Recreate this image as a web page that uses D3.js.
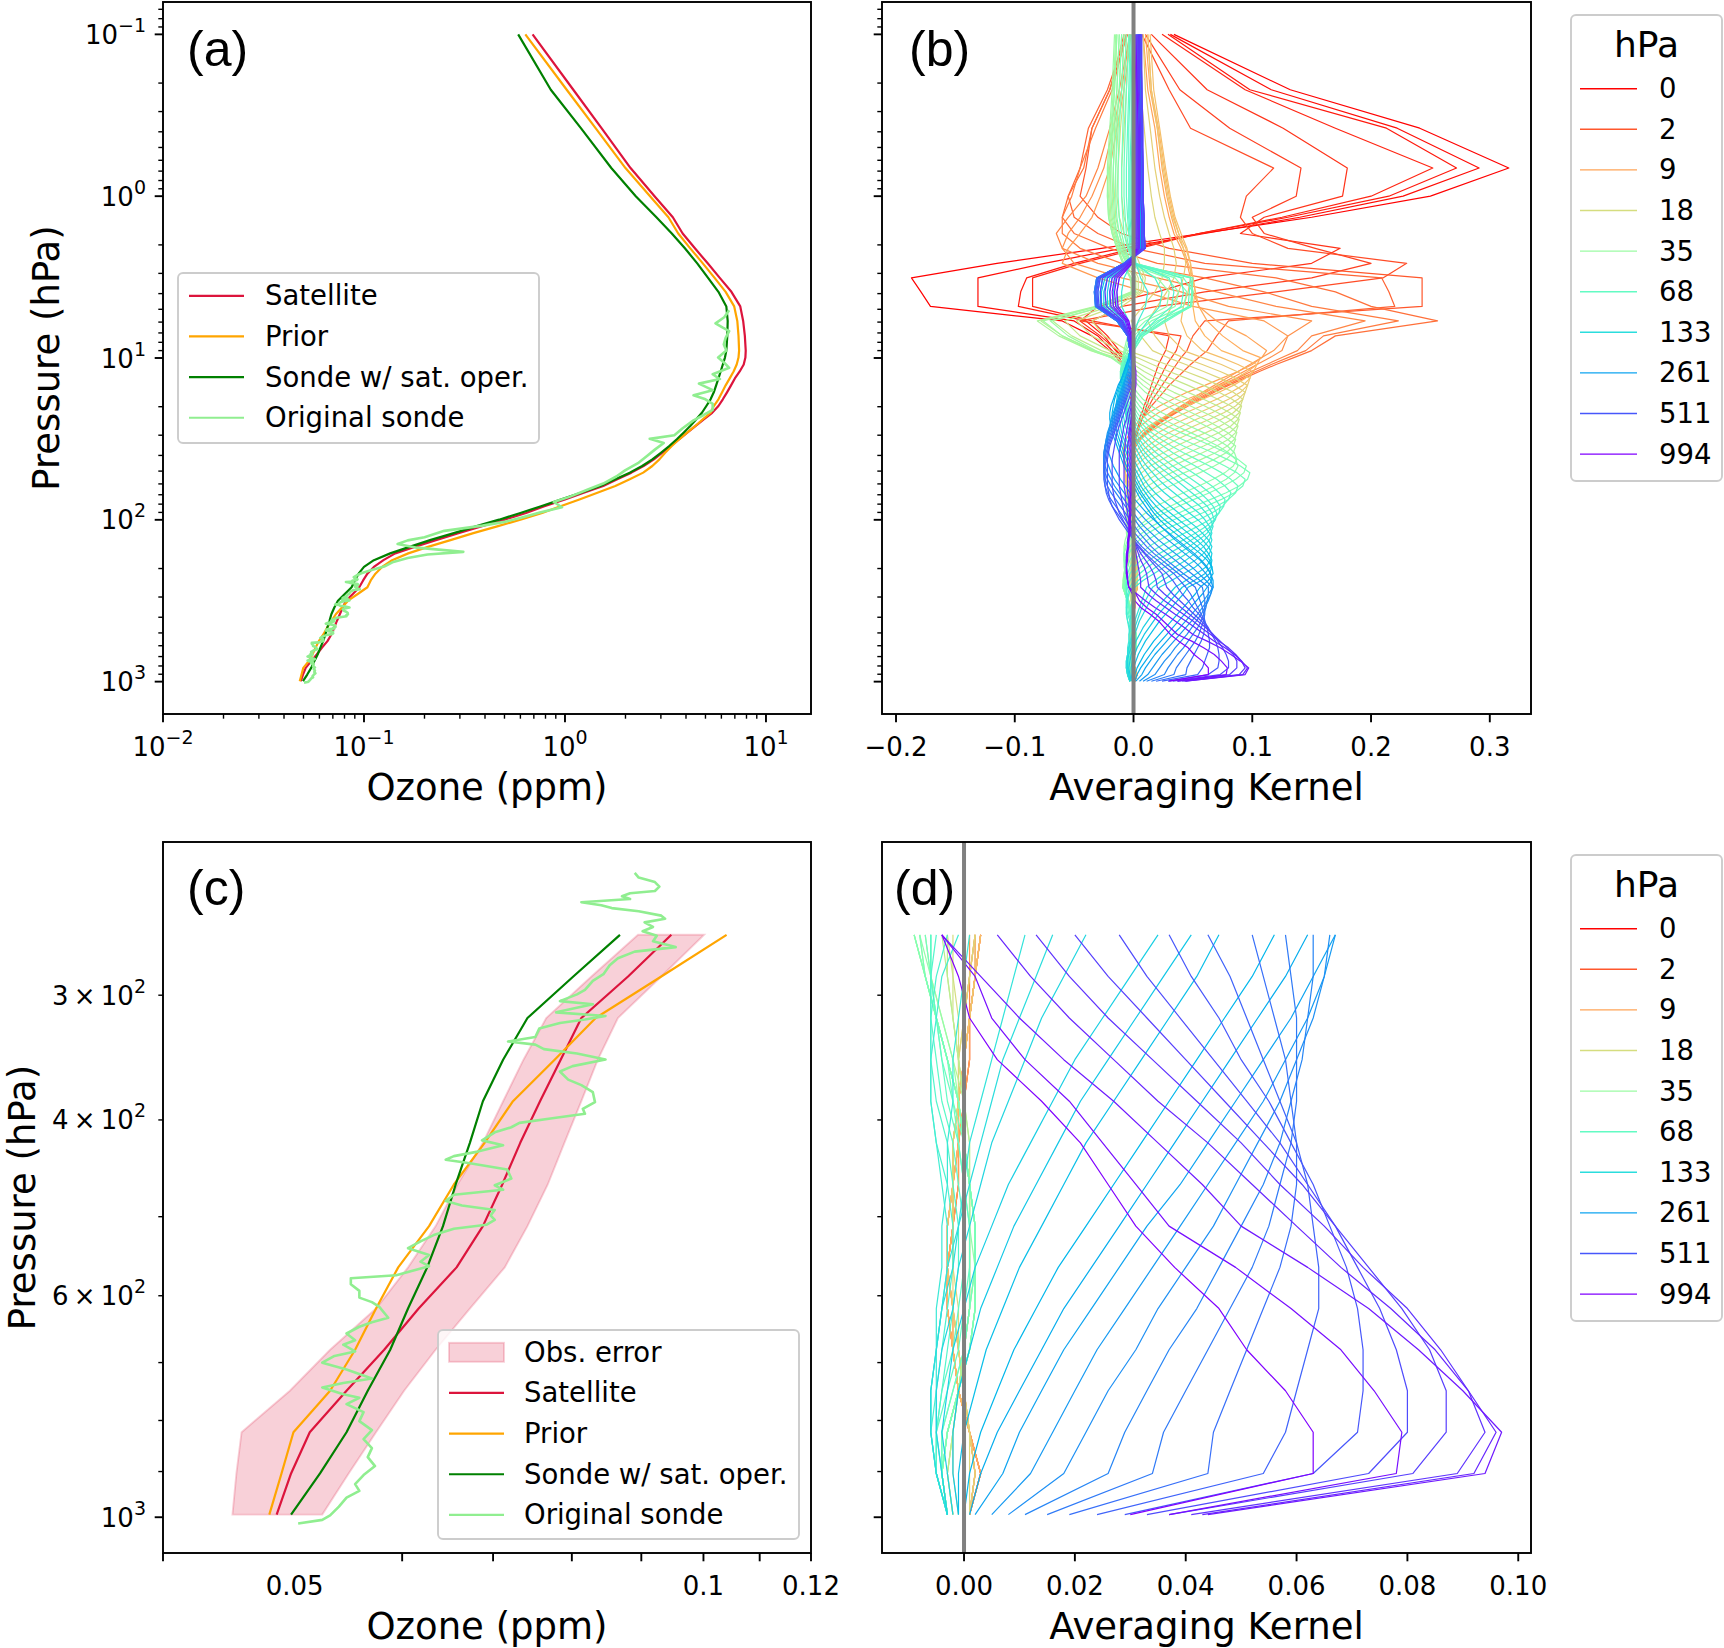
<!DOCTYPE html>
<html>
<head>
<meta charset="utf-8">
<script src="https://cdn.jsdelivr.net/npm/d3@7"></script>
<style>
  body { margin: 0; background: #fff; }
  svg text { font-family: "DejaVu Sans", sans-serif; fill: #000; }
</style>
</head>
<body>
<svg id="fig" width="1724" height="1648"></svg>
<script>
// retrieval grid, hPa, top to bottom
const levels = [
  0.1, 0.22, 0.38, 0.67, 1.0, 1.35, 1.7, 2.1,
  2.6, 3.2, 3.9, 4.8, 5.9, 7.3, 9.0, 9.94,
  10.97, 12.11, 13.37, 14.76, 16.3, 18.0, 19.8, 21.8,
  23.9, 26.3, 28.9, 31.8, 35.0, 38.5, 42.3, 46.5,
  51.1, 56.2, 61.8, 68.0, 74.8, 82.4, 90.7, 99.8,
  109.8, 120.9, 133.0, 146.4, 161.2, 177.5, 195.5, 215.2,
  237.0, 261.0, 287.3, 316.2, 348.1, 383.1, 421.7, 464.2,
  511.0, 562.0, 618.0, 679.6, 747.0, 822.0, 904.0, 994.0
];

// ozone profiles on the grid (ppm)
const satellite = [
  0.69, 1.10, 1.52, 2.12, 2.79, 3.44, 3.85, 4.43,
  5.13, 5.89, 6.73, 7.45, 7.70, 7.85, 7.93, 7.90,
  7.75, 7.40, 7.00, 6.70, 6.40, 6.10, 5.80, 5.40,
  4.92, 4.47, 4.06, 3.69, 3.35, 3.05, 2.77, 2.46,
  2.14, 1.82, 1.55, 1.24, 1.00, 0.79, 0.64, 0.50,
  0.383, 0.295, 0.23, 0.18, 0.143, 0.125, 0.112, 0.104,
  0.099, 0.0947, 0.0880, 0.0813, 0.0785, 0.0758, 0.0733, 0.0711,
  0.0688, 0.0658, 0.0617, 0.0582, 0.0546, 0.0513, 0.0497, 0.0485
];
const prior = [
  0.635, 1.02, 1.42, 2.00, 2.65, 3.27, 3.66, 4.20,
  4.85, 5.55, 6.30, 6.95, 7.20, 7.30, 7.35, 7.30,
  7.15, 6.90, 6.60, 6.30, 6.05, 5.80, 5.50, 5.30,
  4.85, 4.45, 4.05, 3.70, 3.40, 3.15, 2.95, 2.72,
  2.45, 2.10, 1.78, 1.45, 1.18, 0.95, 0.77, 0.60,
  0.46, 0.35, 0.272, 0.21, 0.166, 0.138, 0.123, 0.114,
  0.108, 0.104, 0.0931, 0.0833, 0.0777, 0.0724, 0.0690, 0.0655,
  0.0628, 0.0596, 0.0574, 0.0554, 0.0531, 0.0499, 0.0489, 0.0479
];
const sondeOper = [
  0.585, 0.85, 1.20, 1.70, 2.25, 2.85, 3.40, 3.95,
  4.55, 5.15, 5.80, 6.35, 6.45, 6.42, 6.35, 6.25,
  6.10, 5.95, 5.80, 5.65, 5.50, 5.30, 5.05, 4.80,
  4.50, 4.20, 3.90, 3.60, 3.30, 3.00, 2.72, 2.42,
  2.10, 1.78, 1.50, 1.20, 0.96, 0.76, 0.60, 0.47,
  0.36, 0.28, 0.215, 0.17, 0.135, 0.112, 0.100, 0.094,
  0.090, 0.0868, 0.0802, 0.0742, 0.0712, 0.0688, 0.0673, 0.0657,
  0.0643, 0.0626, 0.0606, 0.0588, 0.0566, 0.0546, 0.0522, 0.0497
];

// original sonde (hPa, ppm)
const sondePres = [
  5.07, 5.6, 6.11, 6.5, 6.82, 7.5, 8.24, 9.0, 9.93, 10.7, 11.5, 12.6, 13.5, 14.4, 15.8, 17.0,
  18.0, 19.2, 20.9, 22.5, 24.3, 27.2, 30.0, 31.6, 33.5, 36.7, 40.5, 44.3, 49.5, 54.0, 59.7, 65.0,
  71.9, 77.6, 83.6, 90.0, 97.0, 103, 108.6, 117, 128, 134, 141, 148.6, 157.8, 163.7, 172, 182,
  194.5, 205, 214, 221,
  226.3, 228.7, 231.1, 233.5, 235.9, 237.1, 238.8, 240.3, 242.1, 243.8,
  245.4, 247.2, 249.7, 251.5, 253.6, 256.3, 258.9, 261.6, 264.9, 268.5,
  271.3, 275.5, 279.9, 285.8, 290.2, 296.3, 299.4, 304.1, 306.3, 312.1,
  314.7, 317.3, 319.9, 323.9, 330.4, 333.8, 336.2, 339.7, 343.2, 347.9,
  353.3, 357.7, 364.5, 369.1, 375.2, 383.9, 389.9, 394.4, 398.5, 402.7,
  406.8, 411.6, 419.3, 424.1, 430.3, 434.8, 438.4, 442.1, 448.5, 457.9,
  465.1, 469.9, 475.3, 482.3, 487.3, 492.4, 498.6, 503.7, 509.4, 514.2,
  521.7, 529.3, 537.7, 546.1, 554.7, 560.5, 572.2, 576.3, 584.2, 593.3,
  602.6, 608.9, 615.2, 631.3, 637.9, 644.5, 654.6, 664.8, 671.7, 682.3,
  689.4, 700.2, 711.2, 726.1, 733.7, 741.3, 752.9, 759.2, 770.3, 784.8,
  801.2, 818, 835.1, 852.6, 870.5, 888.7, 907.4, 926.4, 941, 955.6,
  975.7, 995.9, 1006.2, 1014.6
];
const sondeO3 = [
  6.56, 6.2, 5.61, 6.1, 6.56, 6.3, 6.17, 6.35, 5.78, 6.2, 6.56, 5.43, 5.9, 4.64, 5.43, 4.36,
  5.0, 5.43, 5.43, 4.9, 4.36, 3.85, 3.5, 2.64, 3.1, 2.81, 2.55, 2.33, 1.99, 1.80, 1.55, 1.30,
  1.06, 0.88, 0.966, 0.75, 0.604, 0.50, 0.389, 0.251, 0.20, 0.165, 0.147, 0.183, 0.312, 0.207, 0.165, 0.14,
  0.126, 0.108, 0.097, 0.0918,
  0.0890, 0.0896, 0.0921, 0.0928, 0.0921, 0.0883, 0.0871, 0.0883, 0.0813, 0.0841,
  0.0856, 0.0896, 0.0931, 0.0937, 0.0905, 0.0918, 0.0902, 0.0924, 0.0918, 0.0954,
  0.0890, 0.0865, 0.0853, 0.0844, 0.0829, 0.0818, 0.0807, 0.0784, 0.0829, 0.0779,
  0.0847, 0.0818, 0.0784, 0.0757, 0.0752, 0.0718, 0.0752, 0.0763, 0.0807, 0.0847,
  0.0801, 0.0784, 0.0795, 0.0813, 0.0829, 0.0832, 0.0815, 0.0818, 0.0774, 0.0732,
  0.0722, 0.0702, 0.0687, 0.0712, 0.0682, 0.0655, 0.0646, 0.0673, 0.0717, 0.0722,
  0.0702, 0.0712, 0.0655, 0.0646, 0.0664, 0.0702, 0.0697, 0.0702, 0.0692, 0.0655,
  0.0633, 0.0619, 0.0606, 0.0628, 0.0619, 0.0628, 0.0594, 0.0550, 0.0550, 0.0558,
  0.0558, 0.0570, 0.0577, 0.0586, 0.0570, 0.0558, 0.0546, 0.0554, 0.0543, 0.0554,
  0.0535, 0.0524, 0.0546, 0.0570, 0.0543, 0.0524, 0.0543, 0.0558, 0.0546, 0.0562,
  0.0558, 0.0570, 0.0562, 0.0570, 0.0566, 0.0573, 0.0562, 0.0554, 0.0558, 0.0546,
  0.0539, 0.0531, 0.0524, 0.0503
];

// observation error band for the tropospheric levels (index 49..63)
const tropoFrom = 49;
const obsErrLow = [0.0895, 0.0827, 0.0766, 0.0737, 0.0712, 0.0688, 0.0659, 0.0635, 0.0606, 0.0574, 0.0531, 0.0496, 0.0457, 0.0453, 0.0450];
const obsErrHigh = [0.1001, 0.0931, 0.0865, 0.0836, 0.0813, 0.0790, 0.0768, 0.0742, 0.0714, 0.0673, 0.0635, 0.0602, 0.0574, 0.0548, 0.0524];

// averaging kernel rows (x1000), one row per retrieval level, columns = levels
const kernel = [
  [34,132,241,316,250,150,57,-27, -115,-187,-179,-171,-60,-35,-20,-14, -10,-7,-5,-4,-3,-2,-2,-1, -1,-1,0,0,0,0,0,0, 0,0,0,0,0,0,0,0, 0,0,0,0,0,0,0,0, 0,0,0,0,0,0,0,0, 0,0,0,0,0,0,0,0],
  [31,116,222,291,227,140,60,-10, -75,-131,-131,-131,-50,-30,-18,-12, -9,-6,-4,-3,-2,-2,-1,-1, -1,0,0,0,0,0,0,0, 0,0,0,0,0,0,0,0, 0,0,0,0,0,0,0,0, 0,0,0,0,0,0,0,0, 0,0,0,0,0,0,0,0],
  [29,98,213,272,215,130,55,0, -50,-90,-95,-97,-40,-25,-15,-10, -7,-5,-4,-3,-2,-1,-1,-1, 0,0,0,0,0,0,0,0, 0,0,0,0,0,0,0,0, 0,0,0,0,0,0,0,0, 0,0,0,0,0,0,0,0, 0,0,0,0,0,0,0,0],
  [24,94,170,252,200,125,55,5, -45,-85,-85,-85,-35,-22,-12,-8, -6,-4,-3,-2,-2,-1,-1,0, 0,0,0,0,0,0,0,0, 0,0,0,0,0,0,0,0, 0,0,0,0,0,0,0,0, 0,0,0,0,0,0,0,0, 0,0,0,0,0,0,0,0],
  [15,62,126,180,176,110,90,174, 150,60,20,-30,-45,-28,-14,-9, -6,-4,-3,-2,-1,-1,0,0, 0,0,0,0,0,0,0,0, 0,0,0,0,0,0,0,0, 0,0,0,0,0,0,0,0, 0,0,0,0,0,0,0,0, 0,0,0,0,0,0,0,0],
  [10,39,81,141,137,100,110,153, 200,150,60,-10,-35,30,27,24, 21,19,17,15,13,11,9,7, 5,4,3,2,1,0,0,0, 0,0,0,0,0,0,0,0, 0,0,0,0,0,0,0,0, 0,0,0,0,0,0,0,0, 0,0,0,0,0,0,0,0],
  [7,30,48,118,95,90,100,130, 230,210,120,20,-45,40,36,32, 28,25,22,19,16,13,11,9, 7,5,3,2,1,0,0,0, 0,0,0,0,0,0,0,0, 0,0,0,0,0,0,0,0, 0,0,0,0,0,0,0,0, 0,0,0,0,0,0,0,0],
  [-5,-20,-35,-40,-45,-30,-10,30, 100,243,243,243,60,50,45,40, 36,32,28,24,20,16,13,10, 7,5,3,2,1,0,0,0, 0,0,0,0,0,0,0,0, 0,0,0,0,0,0,0,0, 0,3,2,1,1,0,-1,-1, -2,-3,-3,-2,-1,1,3,1],
  [-6,-22,-38,-45,-55,-50,-30,0, 60,209,215,220,80,70,62,55, 48,42,36,30,25,20,15,11, 7,4,2,1,0,0,0,0, 0,0,0,0,0,0,0,0, 0,0,0,0,0,0,0,0, 0,3,2,1,1,0,-1,-1, -2,-3,-3,-2,-1,1,3,1],
  [-8,-20,-35,-42,-55,-60,-50,-20, 20,120,170,200,256,170,150,135, 120,106,93,80,68,57,46,36, 27,19,12,6,2,0,0,0, 0,0,0,0,0,0,0,0, 0,0,0,0,0,0,0,0, 0,3,2,1,0,-1,-1,-2, -2,-3,-3,-2,-1,1,3,1],
  [-6,-18,-32,-45,-52,-60,-60,-45, -10,60,110,150,223,160,145,130, 116,103,90,78,66,55,45,35, 26,18,11,5,1,0,0,0, 0,0,0,0,0,0,0,0, 0,0,0,0,0,0,0,0, 0,2,2,1,0,-1,-1,-2, -3,-3,-3,-2,-1,1,3,1],
  [-3,-12,-20,-30,-40,-55,-65,-60, -30,20,70,120,195,150,138,125, 112,99,87,75,64,53,43,34, 25,17,10,4,0,-1,-1,0, 0,0,0,0,0,0,0,0, 0,0,0,0,0,0,0,0, 0,2,1,1,0,-1,-2,-2, -3,-3,-2,-2,-1,1,2,1],
  [-3,-10,-17,-25,-35,-45,-55,-60, -50,-10,40,80,150,130,125,115, 104,93,82,71,61,51,41,32, 24,16,9,4,0,-1,-1,0, 0,0,0,0,0,0,0,0, 0,0,0,0,0,0,0,0, 0,2,1,0,0,-1,-2,-2, -3,-3,-2,-1,0,1,2,1],
  [-2,-8,-14,-20,-28,-35,-45,-55, -60,-30,10,50,110,130,118,108, 98,88,78,68,58,49,40,31, 23,15,9,4,0,-1,-1,0, 0,0,0,0,0,0,0,0, 0,0,0,0,0,0,0,0, 0,1,1,0,0,-1,-1,-2, -2,-3,-2,-1,0,1,2,1],
  [8,12,18,22,26,30,34,40, 45,48,50,55,70,95,112,108, 100,88,74,60,45,33,22,13, 6,1,-3,-6,-8,-9,-8,-6, -4,-2,-1,0,0,0,0,0, 0,0,0,0,0,0,1,1, 2,3,2,1,1,0,-1,-1, -2,-3,-3,-2,-1,1,3,1],
  [10,14,20,24,28,32,36,42, 46,50,52,55,62,75,92,107, 104,96,86,73,59,45,32,21, 13,6,1,-3,-6,-8,-8,-7, -5,-3,-2,-1,0,0,0,0, 0,0,0,0,0,1,1,2, 2,3,2,1,0,0,-1,-2, -2,-3,-3,-2,-1,1,3,1],
  [12,15,21,26,30,34,38,44, 48,50,52,50,52,60,74,90, 104,101,94,84,72,58,45,33, 22,13,6,1,-3,-6,-8,-8, -7,-5,-3,-2,-1,0,0,0, 0,0,0,0,1,1,2,2, 3,3,2,1,0,-1,-1,-2, -3,-3,-3,-2,-1,1,2,1],
  [14,17,22,27,31,35,40,45, 48,48,46,42,40,45,58,74, 88,100,98,92,82,70,57,44, 32,22,13,6,1,-3,-6,-7, -7,-6,-4,-2,-1,0,0,0, 0,0,0,1,1,2,2,3, 3,3,2,1,0,-1,-2,-2, -3,-3,-2,-2,-1,1,2,1],
  [12,15,20,25,29,33,38,42, 44,42,38,32,26,30,42,58, 74,87,98,96,90,80,68,55, 43,31,21,13,6,1,-3,-5, -7,-7,-6,-4,-2,-1,0,0, 0,0,1,1,2,2,3,3, 3,2,2,1,0,-1,-2,-2, -3,-3,-2,-1,0,1,2,1],
  [8,10,14,18,22,26,30,34, 36,34,28,20,12,18,28,42, 58,73,86,96,94,88,78,66, 53,41,30,20,12,5,0,-3, -5,-6,-6,-5,-3,-2,-1,0, 0,1,1,2,2,3,3,3, 3,2,1,0,-1,-1,-2,-2, -2,-2,-2,-1,0,1,2,1],
  [4,6,9,12,15,18,22,26, 26,24,18,8,-2,6,16,29, 44,59,73,85,94,92,86,76, 64,51,39,28,18,10,4,-1, -4,-5,-6,-5,-4,-2,-1,0, 0,1,1,2,2,3,3,3, 2,2,1,0,-1,-1,-2,-2, -2,-2,-1,-1,0,1,1,1],
  [-4,-6,-8,-10,-10,-8,-4,0, 5,10,8,-10,-35,-25,-5,12, 28,44,59,72,84,92,90,84, 74,62,49,37,26,16,8,2, -2,-5,-6,-6,-5,-4,-2,-1, 0,0,0,0,-1,-1,-1,-2, -2,-2,-2,-1,-1,0,0,1, 1,1,1,0,-1,-2,-2,-1],
  [-6,-8,-11,-13,-14,-12,-8,-4, 2,8,6,-15,-48,-35,-12,3, 16,30,45,59,72,83,91,89, 83,73,61,48,36,25,15,8, 2,-2,-5,-6,-6,-5,-3,-2, -1,0,0,0,-1,-1,-2,-2, -3,-3,-2,-2,-1,0,0,1, 1,1,1,0,-1,-2,-3,-2],
  [-8,-10,-13,-15,-16,-15,-12,-8, -2,4,4,-20,-58,-45,-20,-5, 6,18,32,46,59,71,82,90, 88,82,72,60,47,35,24,14, 7,1,-3,-5,-6,-6,-5,-3, -2,-1,0,-1,-1,-2,-2,-3, -3,-3,-3,-2,-1,0,0,1, 1,1,1,0,-1,-2,-3,-2],
  [-10,-12,-15,-17,-18,-17,-14,-10, -4,2,2,-25,-68,-52,-27,-10, 0,9,20,33,46,59,71,81, 89,87,81,71,59,46,34,23, 14,7,1,-3,-5,-6,-6,-5, -3,-2,-1,-1,-2,-2,-3,-3, -4,-4,-3,-2,-1,0,1,1, 1,1,1,0,-1,-2,-3,-2],
  [-12,-14,-17,-19,-20,-19,-16,-12, -6,0,0,-30,-78,-60,-33,-15, -5,3,11,22,34,47,60,71, 81,88,86,80,70,58,45,33, 22,13,6,0,-3,-5,-6,-6, -5,-3,-2,-2,-3,-4,-5,-6, -7,-7,-6,-4,-2,0,1,1, 2,2,1,0,-1,-3,-4,-3],
  [-14,-16,-18,-20,-21,-20,-17,-13, -8,-2,-2,-32,-81,-63,-36,-18, -8,-1,6,14,24,36,48,60, 71,80,87,85,79,69,57,44, 32,21,12,5,0,-3,-5,-6, -6,-4,-3,-3,-4,-5,-6,-7, -8,-8,-7,-5,-3,-1,0,1, 2,2,1,0,-1,-3,-4,-3],
  [-15,-17,-19,-21,-22,-21,-18,-14, -9,-3,-1,-30,-76,-60,-35,-19, -10,-4,2,8,16,26,37,49, 60,70,79,86,84,78,68,56, 43,31,20,11,4,-1,-4,-6, -6,-5,-4,-4,-5,-6,-7,-8, -8,-9,-7,-5,-3,-1,0,1, 2,2,2,1,-1,-3,-4,-3],
  [-16,-18,-20,-22,-22,-21,-18,-14, -9,-2,2,-25,-70,-55,-32,-19, -11,-5,-1,4,10,18,28,39, 50,61,71,79,86,84,78,68, 56,43,31,20,11,4,-1,-4, -6,-6,-5,-4,-5,-6,-7,-8, -9,-9,-7,-5,-3,-1,0,1, 2,2,2,1,-1,-3,-4,-3],
  [-14,-16,-18,-19,-19,-18,-15,-12, -6,20,30,28,5,-5,-8,-9, -8,-6,-4,-1,3,8,15,24, 35,47,59,70,79,85,87,84, 77,67,55,42,30,19,10,3, -2,-5,-7,-8,-8,-7,-6,-6, -7,-8,-6,-4,-2,-1,0,1, 1,2,2,1,-1,-3,-4,-3],
  [-12,-14,-16,-17,-17,-16,-14,-11, -5,28,38,35,10,-3,-7,-9, -9,-8,-6,-3,0,4,9,16, 25,36,48,60,71,80,86,88, 85,78,68,56,43,31,20,11, 4,-1,-5,-7,-8,-8,-7,-7, -8,-9,-7,-5,-3,-1,0,1, 2,2,2,1,-1,-3,-4,-3],
  [-10,-12,-14,-15,-15,-14,-12,-9, -3,35,45,42,15,0,-6,-9, -10,-9,-7,-5,-2,1,5,10, 18,28,40,53,66,78,88,95, 93,86,76,64,51,38,26,16, 7,1,-3,-6,-8,-8,-8,-7, -8,-9,-7,-5,-3,-1,0,1, 2,2,2,1,-1,-3,-4,-3],
  [-8,-10,-12,-13,-13,-12,-10,-7, -2,42,50,48,20,3,-4,-8, -10,-10,-9,-7,-4,-1,2,6, 11,19,29,41,54,67,79,90, 98,96,89,78,65,51,38,26, 15,7,1,-3,-6,-7,-7,-6, -7,-8,-7,-5,-3,-1,0,1, 2,2,2,1,-1,-3,-4,-3],
  [-6,-8,-9,-10,-10,-9,-8,-5, 0,48,50,49,25,6,-2,-7, -10,-11,-10,-8,-6,-3,0,3, 7,13,21,31,42,54,66,77, 87,94,92,85,74,61,47,34, 22,12,5,0,-4,-6,-7,-6, -6,-7,-6,-5,-3,-2,0,1, 2,2,1,0,-2,-4,-4,-3],
  [-4,-6,-7,-8,-8,-7,-6,-4, 1,50,49,48,28,8,0,-6, -10,-11,-11,-9,-7,-5,-2,1, 4,9,15,23,32,42,53,64, 74,82,88,86,80,70,58,45, 32,21,12,5,0,-3,-5,-6, -6,-6,-6,-5,-4,-2,-1,0, 1,1,1,0,-2,-4,-4,-3],
  [-3,-4,-5,-6,-6,-5,-4,-3, 1,48,47,46,26,8,0,-5, -9,-11,-11,-10,-8,-6,-4,-1, 2,6,11,17,25,33,42,52, 61,70,77,82,80,75,66,55, 43,32,22,13,6,1,-3,-5, -6,-6,-6,-5,-4,-3,-1,0, 1,1,0,-1,-3,-5,-5,-3],
  [-2,-3,-4,-4,-4,-4,-3,-2, 1,40,42,40,22,6,-1,-5, -8,-10,-11,-10,-9,-7,-5,-3, 0,3,7,12,18,25,33,41, 50,58,66,72,77,76,72,64, 54,43,32,22,13,6,1,-3, -5,-6,-6,-6,-5,-4,-2,-1, 0,0,-1,-2,-4,-5,-5,-3],
  [-1,-2,-2,-3,-3,-3,-2,-1, 1,30,34,32,18,5,-1,-5, -7,-9,-10,-10,-9,-8,-6,-4, -2,1,4,8,13,19,26,33, 41,49,57,64,69,73,72,68, 61,52,42,32,22,13,6,1, -3,-5,-6,-6,-6,-5,-3,-2, -1,-1,-2,-3,-4,-5,-5,-3],
  [0,-1,-1,-2,-2,-2,-1,0, 1,18,24,22,12,3,-1,-4, -6,-8,-9,-9,-9,-8,-7,-5, -3,-1,2,5,9,14,20,27, 34,41,49,56,62,67,70,69, 65,58,49,40,30,20,12,5, 0,-3,-5,-6,-6,-6,-5,-3, -2,-2,-3,-4,-5,-6,-5,-3],
  [1,0,0,-1,-1,-1,0,1, 2,6,12,10,4,0,-2,-4, -6,-7,-8,-9,-9,-8,-7,-6, -4,-2,0,3,6,10,15,21, 28,35,42,49,56,62,66,68, 66,62,55,47,38,28,19,11, 4,-1,-4,-5,-6,-6,-5,-4, -3,-3,-4,-5,-6,-6,-5,-3],
  [2,2,2,1,1,1,2,2, -2,-8,-10,-10,-4,-2,-3,-4, -5,-6,-7,-8,-8,-8,-7,-6, -5,-3,-1,1,4,7,11,16, 22,28,35,42,49,56,61,65, 67,65,60,53,45,36,26,17, 8,1,0,-1,-2,-2,-3,-3, -4,-4,-5,-5,-5,-5,-4,-3],
  [2,2,2,2,2,2,2,3, -2,-12,-14,-14,-6,-2,-3,-4, -5,-6,-7,-8,-9,-9,-8,-7, -6,-5,-3,-1,1,4,7,11, 16,21,27,34,41,48,55,60, 64,66,64,59,52,44,35,26, 18,11,9,7,5,3,1,0, -1,-3,-4,-5,-6,-6,-5,-3],
  [3,3,3,3,3,3,3,3, -3,-15,-17,-17,-8,-3,-3,-4, -5,-6,-7,-8,-9,-10,-10,-9, -8,-7,-5,-3,-1,1,4,7, 11,15,20,26,33,40,47,54, 60,64,66,64,59,52,43,33, 24,16,13,10,7,5,3,1, -1,-2,-4,-5,-6,-6,-5,-3],
  [3,3,3,3,3,3,4,4, -3,-18,-20,-20,-9,-3,-3,-4, -5,-6,-7,-8,-10,-11,-12,-11, -10,-9,-8,-6,-4,-2,0,3, 6,9,13,18,24,31,38,45, 52,58,63,66,64,59,52,42, 32,22,18,14,11,8,5,3, 1,-1,-2,-4,-5,-5,-4,-3],
  [4,4,4,4,4,4,4,4, -4,-20,-22,-22,-10,-3,-3,-4, -5,-6,-7,-9,-11,-12,-13,-13, -12,-11,-10,-8,-6,-4,-2,0, 3,6,9,13,18,24,31,38, 45,52,58,63,66,65,61,53, 44,35,30,25,20,16,12,8, 5,2,0,-2,-3,-4,-3,-2],
  [4,4,4,4,4,5,5,5, -5,-22,-25,-25,-11,-3,-3,-4, -5,-6,-8,-10,-12,-13,-14,-14, -14,-13,-12,-10,-8,-6,-4,-2, 1,3,6,10,14,19,25,32, 39,46,53,59,63,66,65,60, 51,41,36,31,26,21,17,13, 9,6,3,1,-1,-2,-2,-1],
  [4,4,5,5,5,5,5,5, -5,-24,-27,-27,-12,-4,-3,-4, -5,-7,-9,-11,-13,-14,-15,-16, -16,-15,-14,-12,-10,-8,-6,-4, -1,1,4,7,11,15,20,26, 33,40,47,54,60,64,66,64, 57,46,42,37,32,27,22,18, 14,10,7,4,2,0,-1,-1],
  [5,5,5,5,5,5,6,6, -6,-26,-28,-28,-13,-4,-3,-4, -6,-8,-10,-12,-14,-16,-17,-18, -18,-17,-16,-14,-12,-10,-8,-6, -3,-1,2,5,9,13,17,22, 28,35,42,49,56,62,66,67, 63,56,52,47,42,37,32,27, 22,17,13,9,6,3,1,0],
  [5,5,5,6,6,6,6,6, -6,-28,-30,-30,-14,-4,-3,-4, -6,-8,-10,-13,-15,-17,-19,-20, -20,-19,-18,-16,-14,-12,-10,-8, -5,-3,0,3,6,10,14,18, 23,29,35,42,49,56,61,65, 66,62,58,53,48,43,38,33, 28,23,18,14,10,6,3,1],
  [5,6,6,6,6,7,7,7, -8,-30,-32,-31,-14,-5,-3,-3, -4,-5,-7,-9,-11,-13,-15,-17, -19,-20,-21,-22,-22,-21,-19,-17, -14,-11,-7,-3,1,6,11,17, 23,30,37,44,51,57,62,65, 67,67,63,59,54,49,44,39, 33,28,23,18,14,10,7,2],
  [5,6,6,7,7,7,7,7, -8,-30,-32,-32,-14,-5,-3,-3, -3,-4,-6,-8,-10,-12,-14,-16, -18,-20,-22,-23,-24,-24,-23,-21, -19,-16,-12,-8,-4,0,5,10, 16,22,29,36,43,50,56,61, 65,67,65,62,58,54,49,44, 39,34,29,24,20,16,12,5],
  [5,6,7,7,7,7,8,8, -8,-31,-33,-32,-14,-5,-3,-2, -2,-3,-5,-7,-9,-11,-13,-15, -17,-19,-21,-23,-24,-25,-25,-24, -22,-19,-16,-12,-8,-4,0,4, 9,15,21,28,35,42,49,55, 61,66,65,63,60,57,53,49, 45,40,35,31,26,22,18,8],
  [5,6,7,7,7,8,8,8, -8,-31,-33,-32,-14,-5,-3,-2, -2,-2,-4,-6,-8,-10,-12,-14, -16,-18,-20,-22,-24,-25,-25,-25, -24,-22,-19,-15,-11,-7,-3,1, 5,10,15,21,28,35,42,49, 56,63,63,62,61,59,57,54, 50,46,42,37,33,29,26,11],
  [6,6,7,7,8,8,8,8, -8,-31,-33,-32,-14,-5,-3,-2, -1,-2,-3,-5,-7,-9,-11,-13, -15,-17,-19,-21,-23,-24,-25,-25, -25,-24,-22,-19,-15,-11,-7,-3, 1,5,10,15,21,28,35,42, 50,58,59,60,60,60,59,57, 55,52,48,44,40,36,34,15],
  [6,6,7,7,8,8,8,9, -8,-30,-32,-31,-13,-5,-3,-2, -1,-1,-2,-4,-6,-8,-10,-12, -14,-16,-18,-20,-22,-23,-24,-25, -25,-25,-24,-22,-19,-15,-11,-7, -3,1,6,11,17,24,31,38, 45,52,54,56,58,59,60,60, 59,57,54,51,48,45,44,19],
  [6,7,7,8,8,8,9,9, -8,-30,-32,-31,-13,-5,-3,-2, -1,-1,-2,-3,-5,-7,-9,-11, -13,-15,-17,-19,-21,-22,-23,-24, -24,-24,-24,-23,-21,-18,-14,-10, -6,-2,2,7,13,20,27,34, 39,44,48,51,54,57,60,62, 63,64,64,62,60,58,54,24],
  [6,7,7,8,8,9,9,9, -7,-29,-31,-30,-12,-5,-3,-2, -1,-1,-1,-2,-4,-6,-8,-10, -12,-14,-16,-18,-20,-21,-22,-22, -22,-22,-22,-21,-20,-18,-15,-12, -8,-4,0,5,10,16,22,28, 33,37,41,46,50,55,59,63, 66,69,71,72,72,71,63,29],
  [6,7,7,8,8,9,9,10, -7,-28,-30,-29,-11,-4,-3,-2, -1,0,0,-1,-2,-4,-6,-8, -10,-12,-14,-15,-16,-17,-18,-18, -18,-18,-18,-17,-16,-14,-12,-9, -6,-3,0,4,9,14,19,24, 26,28,33,39,45,51,57,62, 67,71,75,78,80,80,73,33],
  [7,7,8,8,8,9,9,10, -6,-26,-28,-27,-10,-4,-2,-1, 0,0,0,-1,-1,-2,-3,-5, -6,-8,-9,-10,-11,-12,-12,-12, -12,-12,-12,-11,-10,-9,-8,-6, -4,-2,0,3,6,10,14,17, 19,20,26,33,40,47,54,61, 67,73,79,84,87,87,81,37],
  [5,5,6,6,6,7,7,7, -5,-22,-24,-23,-9,-3,-2,-1, 0,0,0,0,-1,-1,-2,-3, -4,-5,-6,-7,-7,-8,-8,-8, -8,-8,-8,-7,-7,-6,-5,-4, -3,-1,0,2,4,6,9,11, 12,13,19,26,34,42,50,57, 65,72,80,86,91,94,89,41],
  [4,4,5,5,5,5,5,5, -4,-18,-20,-19,-7,-3,-1,0, 0,0,0,0,0,-1,-1,-2, -2,-3,-4,-4,-5,-5,-5,-5, -5,-5,-5,-5,-4,-4,-3,-3, -2,-1,0,1,2,3,4,5, 6,6,12,19,27,35,44,52, 60,68,77,85,91,96,92,43],
  [3,3,4,4,4,4,4,4, -3,-16,-18,-17,-6,-2,-1,0, 0,1,1,1,0,0,-1,-1, -2,-2,-3,-3,-3,-3,-3,-3, -3,-3,-3,-3,-3,-3,-3,-4, -4,-4,-5,-5,-6,-6,-6,-5, -5,-4,3,10,18,27,35,43, 50,62,73,82,90,97,94,44],
  [2,3,3,3,3,3,3,3, -2,-14,-16,-15,-5,-2,-1,0, 1,1,1,1,1,0,0,-1, -1,-1,-2,-2,-2,-2,-2,-2, -2,-2,-2,-2,-3,-3,-3,-3, -3,-4,-4,-5,-5,-6,-6,-6, -5,-4,2,5,11,19,25,31, 37,49,59,68,74,79,78,37],
  [1,2,2,2,2,2,2,2, -1,-12,-14,-13,-4,-1,0,1, 1,2,2,2,1,1,0,0, -1,-1,-1,-1,-1,-1,-1,-1, -1,-1,-2,-2,-2,-2,-2,-3, -3,-3,-4,-4,-5,-5,-6,-6, -5,-4,-1,1,6,14,21,26, 31,38,46,51,58,63,63,30]
];
const kernelUnit = 1000;
const legendRows = [0, 7, 14, 21, 28, 35, 42, 49, 56, 63];

// axis tick values and labels
const aYTickVals = [0.1, 1, 10, 100, 1000];
const aYTickExp = ["\u22121", "0", "1", "2", "3"];
const aXTickVals = [0.01, 0.1, 1, 10];
const aXTickExp = ["\u22122", "\u22121", "0", "1"];
const bXTickVals = [-0.2, -0.1, 0, 0.1, 0.2, 0.3];
const bXTickText = ["\u22120.2", "\u22120.1", "0.0", "0.1", "0.2", "0.3"];
const cYTickVals = [300, 400, 600, 1000];
const cYTickMant = ["3", "4", "6", null];
const cYTickExp = ["2", "2", "2", "3"];
const cXTickMarks = [0.04, 0.06, 0.07, 0.08, 0.09, 0.1, 0.11, 0.12];
const cXTickVals = [0.05, 0.1, 0.12];
const cXTickText = ["0.05", "0.1", "0.12"];
const dXTickVals = [0, 0.02, 0.04, 0.06, 0.08, 0.1];
const dXTickText = ["0.00", "0.02", "0.04", "0.06", "0.08", "0.10"];

const profileNames = ["Satellite", "Prior", "Sonde w/ sat. oper.", "Original sonde"];
const profileColors = ["#dc143c", "#ffa500", "#008000", "#90ee90"];

// ---------------------------------------------------------------
const svg = d3.select("#fig");
const FS_TICK = 26, FS_SUP = 19, FS_LABEL = 37, FS_LEG = 27.5;
const TICK_MAJ = 8.3, TICK_MIN = 4.7;

function rainbow(t) {
  const r = Math.min(1, Math.abs(2 * t - 0.5));
  const g = Math.sin(Math.PI * t);
  const b = Math.max(0, Math.cos(Math.PI * t / 2));
  return d3.rgb(255 * r, 255 * g, 255 * b).formatHex();
}

function logTicks(lo, hi) {
  const out = [];
  for (let e = Math.floor(Math.log10(lo)); e <= Math.ceil(Math.log10(hi)); e++) {
    for (let k = 1; k < 10; k++) {
      const v = k * Math.pow(10, e);
      if (v >= lo * 0.999 && v <= hi * 1.001) out.push({ v: v, major: k === 1 });
    }
  }
  return out;
}

function clipFor(id, box) {
  svg.append("clipPath").attr("id", id).append("rect")
    .attr("x", box.x0).attr("y", box.y0).attr("width", box.x1 - box.x0).attr("height", box.y1 - box.y0);
  return svg.append("g").attr("clip-path", "url(#" + id + ")");
}

function frame(box) {
  svg.append("rect").attr("x", box.x0).attr("y", box.y0)
    .attr("width", box.x1 - box.x0).attr("height", box.y1 - box.y0)
    .attr("fill", "none").attr("stroke", "#000").attr("stroke-width", 1.9);
}

function yTickMarks(box, y, ticks) {
  ticks.forEach(t => {
    svg.append("line").attr("x1", box.x0).attr("x2", box.x0 - (t.major ? TICK_MAJ : TICK_MIN))
      .attr("y1", y(t.v)).attr("y2", y(t.v))
      .attr("stroke", "#000").attr("stroke-width", t.major ? 1.9 : 1.4);
  });
}

function xTickMarks(box, x, ticks) {
  ticks.forEach(t => {
    svg.append("line").attr("y1", box.y1).attr("y2", box.y1 + (t.major ? TICK_MAJ : TICK_MIN))
      .attr("x1", x(t.v)).attr("x2", x(t.v))
      .attr("stroke", "#000").attr("stroke-width", t.major ? 1.9 : 1.4);
  });
}

function powLabel(px, py, anchor, mant, exp) {
  const t = svg.append("text").attr("x", px).attr("y", py).attr("text-anchor", anchor)
    .style("font-size", FS_TICK + "px");
  t.append("tspan").text(mant ? mant + "\u2009\u00d7\u200910" : "10");
  t.append("tspan").attr("dy", -12).style("font-size", FS_SUP + "px").text(exp);
}

function plainLabel(px, py, anchor, s) {
  svg.append("text").attr("x", px).attr("y", py).attr("text-anchor", anchor)
    .style("font-size", FS_TICK + "px").text(s);
}

function axisTitleX(box, s) {
  svg.append("text").attr("x", (box.x0 + box.x1) / 2).attr("y", box.y1 + 86)
    .attr("text-anchor", "middle").style("font-size", FS_LABEL + "px").text(s);
}

function axisTitleY(box, bx, s) {
  svg.append("text").attr("transform", "translate(" + bx + "," + ((box.y0 + box.y1) / 2) + ") rotate(-90)")
    .attr("text-anchor", "middle").style("font-size", FS_LABEL + "px").text(s);
}

function panelLetter(px, py, s) {
  svg.append("text").attr("x", px).attr("y", py)
    .style("font-family", "'Liberation Sans', Arial, sans-serif").style("font-size", "50px").text(s);
}

function legendFrame(x, y, w, h) {
  svg.append("rect").attr("x", x).attr("y", y).attr("width", w).attr("height", h).attr("rx", 5)
    .attr("fill", "#fff").attr("fill-opacity", 0.8).attr("stroke", "#cccccc").attr("stroke-width", 1.9);
}

// profile panels ---------------------------------------------------
function drawProfiles(g, x, y, from, minSondeP) {
  const line = d3.line().x(d => x(d[1])).y(d => y(d[0]));
  const idx = d3.range(from, levels.length);
  [satellite, prior, sondeOper].forEach((arr, k) => {
    g.append("path").attr("d", line(idx.map(i => [levels[i], arr[i]])))
      .attr("fill", "none").attr("stroke", profileColors[k]).attr("stroke-width", 2.2)
      .attr("stroke-linejoin", "round");
  });
  const n = Math.min(sondePres.length, sondeO3.length);
  const pts = d3.range(n).filter(i => sondePres[i] >= minSondeP).map(i => [sondePres[i], sondeO3[i]]);
  g.append("path").attr("d", line(pts))
    .attr("fill", "none").attr("stroke", profileColors[3]).attr("stroke-width", 2.6)
    .attr("stroke-linejoin", "round");
}

// panel (a)
const boxA = { x0: 163, x1: 811, y0: 2, y1: 714 };
const xA = d3.scaleLog().domain([0.01, 16.75]).range([boxA.x0, boxA.x1]);
const yA = d3.scaleLog().domain([Math.pow(10, -1.2), Math.pow(10, 3.2)]).range([boxA.y0, boxA.y1]);
const gA = clipFor("clipA", boxA);
drawProfiles(gA, xA, yA, 0, 0);
frame(boxA);
yTickMarks(boxA, yA, logTicks(yA.domain()[0], yA.domain()[1]));
xTickMarks(boxA, xA, logTicks(xA.domain()[0], xA.domain()[1]));
aYTickVals.forEach((v, i) => powLabel(boxA.x0 - 17, yA(v) + 9.5, "end", null, aYTickExp[i]));
aXTickVals.forEach((v, i) => powLabel(xA(v), boxA.y1 + 42, "middle", null, aXTickExp[i]));
axisTitleX(boxA, "Ozone (ppm)");
axisTitleY(boxA, 59, "Pressure (hPa)");
panelLetter(187, 66, "(a)");

legendFrame(178, 273, 361, 170);
profileNames.forEach((name, k) => {
  const cy = 295.8 + 40.65 * k;
  svg.append("line").attr("x1", 189).attr("x2", 244).attr("y1", cy).attr("y2", cy)
    .attr("stroke", profileColors[k]).attr("stroke-width", 2.2);
  svg.append("text").attr("x", 265).attr("y", cy + 9.5).style("font-size", FS_LEG + "px").text(name);
});

// panel (c)
const boxC = { x0: 163, x1: 811, y0: 842, y1: 1553 };
const xC = d3.scaleLog().domain([0.04, 0.12]).range([boxC.x0, boxC.x1]);
const yC = d3.scaleLog().domain([210.7, 1086]).range([boxC.y0, boxC.y1]);
const gC = clipFor("clipC", boxC);
const bandIdx = d3.range(0, Math.min(obsErrLow.length, obsErrHigh.length));
const band = d3.area()
  .x0(i => xC(obsErrLow[i])).x1(i => xC(obsErrHigh[i]))
  .y(i => yC(levels[tropoFrom + i]));
gC.append("path").attr("d", band(bandIdx))
  .attr("fill", "#dc143c").attr("fill-opacity", 0.2)
  .attr("stroke", "#dc143c").attr("stroke-opacity", 0.2).attr("stroke-width", 1.9);
drawProfiles(gC, xC, yC, tropoFrom, 225);
frame(boxC);
yTickMarks(boxC, yC, logTicks(yC.domain()[0], yC.domain()[1]));
xTickMarks(boxC, xC, cXTickMarks.map(v => ({ v: v, major: true })));
cYTickVals.forEach((v, i) => powLabel(boxC.x0 - 17, yC(v) + 9.5, "end", cYTickMant[i], cYTickExp[i]));
cXTickVals.forEach((v, i) => plainLabel(xC(v), boxC.y1 + 42, "middle", cXTickText[i]));
axisTitleX(boxC, "Ozone (ppm)");
axisTitleY(boxC, 35, "Pressure (hPa)");
panelLetter(187, 905, "(c)");

legendFrame(438, 1330, 361, 209);
const cLegNames = ["Obs. error"].concat(profileNames);
cLegNames.forEach((name, k) => {
  const cy = 1352.3 + 40.65 * k;
  if (k === 0) {
    svg.append("rect").attr("x", 449).attr("y", cy - 9.5).attr("width", 55).attr("height", 19)
      .attr("fill", "#dc143c").attr("fill-opacity", 0.2)
      .attr("stroke", "#dc143c").attr("stroke-opacity", 0.2).attr("stroke-width", 1.9);
  } else {
    svg.append("line").attr("x1", 449).attr("x2", 504).attr("y1", cy).attr("y2", cy)
      .attr("stroke", profileColors[k - 1]).attr("stroke-width", 2.2);
  }
  svg.append("text").attr("x", 524).attr("y", cy + 9.5).style("font-size", FS_LEG + "px").text(name);
});

// kernel panels ----------------------------------------------------
function drawKernel(g, x, y, from) {
  const line = d3.line().x(d => x(d[0])).y(d => y(d[1]));
  kernel.forEach((row, i) => {
    const n = Math.min(row.length, levels.length);
    const pts = d3.range(from, n).map(j => [row[j] / kernelUnit, levels[j]]);
    g.append("path").attr("d", line(pts))
      .attr("fill", "none").attr("stroke", rainbow(1 - i / (kernel.length - 1)))
      .attr("stroke-width", 1.2).attr("stroke-linejoin", "round");
  });
  g.append("line").attr("x1", x(0)).attr("x2", x(0)).attr("y1", y.range()[0]).attr("y2", y.range()[1])
    .attr("stroke", "#808080").attr("stroke-width", 4);
}

function kernelLegend(top) {
  legendFrame(1571, top, 151, 466);
  svg.append("text").attr("x", 1646.5).attr("y", top + 41.7).attr("text-anchor", "middle")
    .style("font-size", "36px").text("hPa");
  legendRows.forEach((i, k) => {
    const cy = top + 73.7 + 40.6 * k;
    svg.append("line").attr("x1", 1580).attr("x2", 1637).attr("y1", cy).attr("y2", cy)
      .attr("stroke", rainbow(1 - i / (kernel.length - 1))).attr("stroke-width", 1.4);
    svg.append("text").attr("x", 1659).attr("y", cy + 9.5).style("font-size", FS_LEG + "px")
      .text(String(Math.round(levels[i])));
  });
}

// panel (b)
const boxB = { x0: 882, x1: 1531, y0: 2, y1: 714 };
const xB = d3.scaleLinear().domain([-0.2118, 0.3347]).range([boxB.x0, boxB.x1]);
const yB = d3.scaleLog().domain(yA.domain()).range([boxB.y0, boxB.y1]);
const gB = clipFor("clipB", boxB);
drawKernel(gB, xB, yB, 0);
frame(boxB);
yTickMarks(boxB, yB, logTicks(yB.domain()[0], yB.domain()[1]));
xTickMarks(boxB, xB, bXTickVals.map(v => ({ v: v, major: true })));
bXTickVals.forEach((v, i) => plainLabel(xB(v), boxB.y1 + 42, "middle", bXTickText[i]));
axisTitleX(boxB, "Averaging Kernel");
panelLetter(909, 66, "(b)");
kernelLegend(15);

// panel (d)
const boxD = { x0: 882, x1: 1531, y0: 842, y1: 1553 };
const xD = d3.scaleLinear().domain([-0.0148, 0.1023]).range([boxD.x0, boxD.x1]);
const yD = d3.scaleLog().domain(yC.domain()).range([boxD.y0, boxD.y1]);
const gD = clipFor("clipD", boxD);
drawKernel(gD, xD, yD, tropoFrom);
frame(boxD);
yTickMarks(boxD, yD, logTicks(yD.domain()[0], yD.domain()[1]));
xTickMarks(boxD, xD, dXTickVals.map(v => ({ v: v, major: true })));
dXTickVals.forEach((v, i) => plainLabel(xD(v), boxD.y1 + 42, "middle", dXTickText[i]));
axisTitleX(boxD, "Averaging Kernel");
panelLetter(894, 905, "(d)");
kernelLegend(855);
</script>
</body>
</html>
